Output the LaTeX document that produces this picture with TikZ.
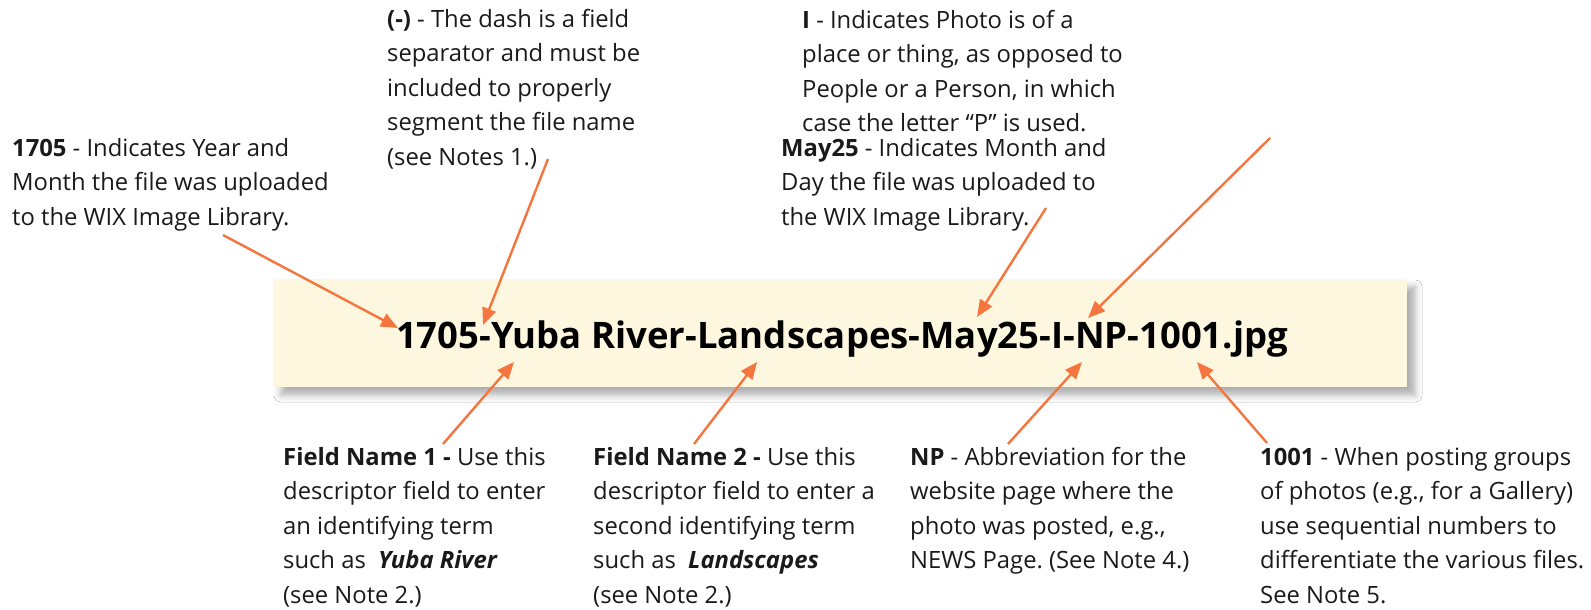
\documentclass[tikz,border=0pt]{standalone}
\usepackage{fontspec}
\setmainfont{Open Sans}
\frenchspacing
\usetikzlibrary{arrows.meta,shadows.blur}
\definecolor{banner}{RGB}{254,247,224}
\definecolor{arrowc}{RGB}{244,118,62}
\definecolor{txt}{RGB}{26,26,26}
\tikzset{
  note/.style={anchor=base west, inner sep=0pt, align=left, text=txt,
    font=\fontsize{23.8}{34.5}\selectfont},
  arr/.style={draw=arrowc, line width=2.4pt, -{Triangle[length=17pt,width=14pt]}},
  bannerbox/.style={fill=banner, draw=none,
    blur shadow={shadow xshift=8pt, shadow yshift=-8pt, shadow blur radius=7pt, shadow blur extra rounding=0pt, shadow opacity=32}},
}
\begin{document}
\begin{tikzpicture}[x=1pt,y=-1pt]
\useasboundingbox (0,0) rectangle (1591,610);
\fill[white] (0,0) rectangle (1591,610);
% banner
\path[bannerbox] (273,279) rectangle (1407,387);
\node[anchor=base, inner sep=0pt, text=black, font=\fontsize{36.5}{44}\selectfont\bfseries] (title) at (842,348) {1705-Yuba River-Landscapes-May25-I-NP-1001.jpg};
% top notes (anchor = baseline of last line)
\node[note] (n1705) at (12,225) {\textbf{1705} - Indicates Year and\\Month the file was uploaded\\to the WIX Image Library.};
\node[note] (ndash) at (387,165) {\textbf{(-)} - The dash is a field\\separator and must be\\included to properly\\segment the file name\\(see Notes 1.)};
\node[note] (nmay) at (781,225) {\textbf{May25} - Indicates Month and\\Day the file was uploaded to\\the WIX Image Library.};
\node[note] (ni) at (802,131.5) {\textbf{I} - Indicates Photo is of a\\place or thing, as opposed to\\People or a Person, in which\\case the letter “P” is used.};
% bottom notes
\node[note] (nf1) at (283,603) {\textbf{Field Name 1 -} Use this\\descriptor field to enter\\an identifying term\\such as\ \ \textbf{\textit{Yuba River}}\\(see Note 2.)};
\node[note] (nf2) at (593,603) {\textbf{Field Name 2 -} Use this\\descriptor field to enter a\\second identifying term\\such as\ \ \textbf{\textit{Landscapes}}\\(see Note 2.)};
\node[note] (nnp) at (910,568.5) {\textbf{NP} - Abbreviation for the\\website page where the\\photo was posted, e.g.,\\NEWS Page. (See Note 4.)};
\node[note] (n1001) at (1260,603) {\textbf{1001} - When posting groups\\of photos (e.g., for a Gallery)\\use sequential numbers to\\differentiate the various files.\\See Note 5.};
% arrow anchor points
\coordinate (s1705) at (223,235);  \coordinate (t1705) at (398,328);
\coordinate (sdash) at (548,159);  \coordinate (tdash) at (483,325);
\coordinate (smay) at (1046,208);  \coordinate (tmay) at (977,317);
\coordinate (si) at (1270,138);    \coordinate (ti) at (1088,318);
\coordinate (sf1) at (443,444);    \coordinate (tf1) at (514,362);
\coordinate (sf2) at (694,444);    \coordinate (tf2) at (757,362);
\coordinate (snp) at (1008,444);   \coordinate (tnp) at (1082,362);
\coordinate (s1001) at (1267,443); \coordinate (t1001) at (1197,362);
\draw[arr] (s1705) -- (t1705);
\draw[arr] (sdash) -- (tdash);
\draw[arr] (smay) -- (tmay);
\draw[arr] (si) -- (ti);
\draw[arr] (sf1) -- (tf1);
\draw[arr] (sf2) -- (tf2);
\draw[arr] (snp) -- (tnp);
\draw[arr] (s1001) -- (t1001);
\end{tikzpicture}
\end{document}
